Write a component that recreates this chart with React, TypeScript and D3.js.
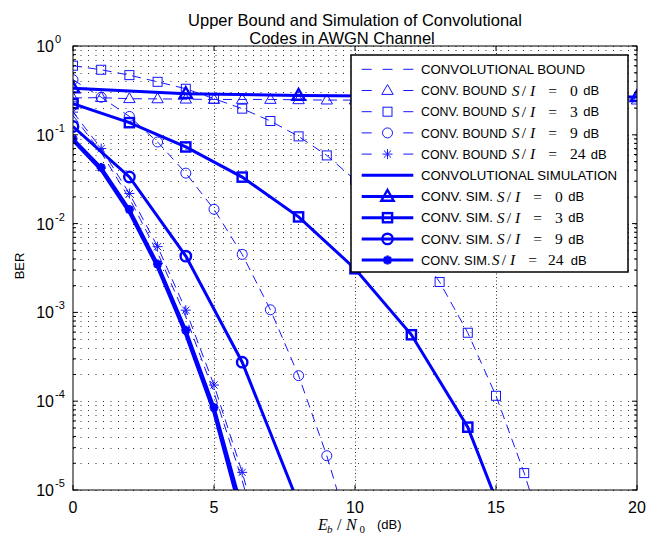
import React from "react";
import * as d3 from "d3";

// ---------- data ----------
const xTickValues = [0, 5, 10, 15, 20];
const yDecadeExps = [0, -1, -2, -3, -4, -5];

const boundPlainX = [0, 1, 2, 3, 4, 5, 6, 7];
const boundPlainY = [0.165, 0.063, 0.0192, 0.0047, 8.9e-4, 1.25e-4, 1.28e-5, 9.5e-7];

const boundTriX = [0, 1, 2, 3, 4, 5, 6, 7, 8, 9, 10, 11, 12, 13, 14, 15, 16, 17, 18, 19, 20];
const boundTriY = [0.26, 0.262, 0.255, 0.254, 0.252, 0.25, 0.25, 0.25, 0.248, 0.246, 0.246, 0.246, 0.246, 0.246, 0.246, 0.246, 0.246, 0.246, 0.246, 0.246, 0.246];

const boundSqX = [0, 1, 2, 3, 4, 5, 6, 7, 8, 9, 10, 11, 12, 13, 14, 15, 16, 17];
const boundSqY = [0.6, 0.54, 0.47, 0.395, 0.33, 0.255, 0.197, 0.143, 0.096, 0.0586, 0.031, 0.0145, 0.0062, 0.0022, 5.9e-4, 1.15e-4, 1.55e-5, 1.5e-6];

const boundCircX = [0, 1, 2, 3, 4, 5, 6, 7, 8, 9, 10];
const boundCircY = [0.417, 0.265, 0.161, 0.083, 0.037, 0.0145, 0.0045, 1.07e-3, 1.94e-4, 2.43e-5, 2.1e-6];

const boundStarX = [0, 1, 2, 3, 4, 5, 6, 7];
const boundStarY = [0.18, 0.07, 0.0218, 0.0055, 1.06e-3, 1.52e-4, 1.58e-5, 1.2e-6];

const simPlainX = [0, 1, 2, 3, 4, 5, 6];
const simPlainY = [0.086, 0.04, 0.0133, 3.2e-3, 5.6e-4, 7.4e-5, 4.8e-6];

const simTriX = [0, 4, 8, 12, 16, 20];
const simTriY = [0.335, 0.29, 0.277, 0.272, 0.269, 0.267];

const simSqX = [0, 2, 4, 6, 8, 10, 12, 14, 16];
const simSqY = [0.224, 0.137, 0.073, 0.0334, 0.0119, 3.1e-3, 5.6e-4, 5.1e-5, 1.2e-6];

const simCircX = [0, 2, 4, 6, 8];
const simCircY = [0.124, 0.0335, 4.3e-3, 2.75e-4, 7e-6];

const simStarX = [0, 1, 2, 3, 4, 5, 6];
const simStarY = [0.09, 0.0427, 0.0144, 3.5e-3, 6.3e-4, 8.5e-5, 6e-6];

const legendPrefixes = [
  "CONVOLUTIONAL BOUND",
  "CONV. BOUND",
  "CONV. BOUND",
  "CONV. BOUND",
  "CONV. BOUND",
  "CONVOLUTIONAL SIMULATION",
  "CONV. SIM.",
  "CONV. SIM.",
  "CONV. SIM.",
  "CONV. SIM.",
];
const legendSI = [null, "0", "3", "9", "24", null, "0", "3", "9", "24"];

type Marker = "none" | "tri" | "sq" | "circ" | "star";

const series = [
  { xs: boundPlainX, ys: boundPlainY, dashed: true, sim: false, marker: "none" as Marker },
  { xs: boundTriX, ys: boundTriY, dashed: true, sim: false, marker: "tri" as Marker },
  { xs: boundSqX, ys: boundSqY, dashed: true, sim: false, marker: "sq" as Marker },
  { xs: boundCircX, ys: boundCircY, dashed: true, sim: false, marker: "circ" as Marker },
  { xs: boundStarX, ys: boundStarY, dashed: true, sim: false, marker: "star" as Marker },
  { xs: simPlainX, ys: simPlainY, dashed: false, sim: true, marker: "none" as Marker },
  { xs: simTriX, ys: simTriY, dashed: false, sim: true, marker: "tri" as Marker },
  { xs: simSqX, ys: simSqY, dashed: false, sim: true, marker: "sq" as Marker },
  { xs: simCircX, ys: simCircY, dashed: false, sim: true, marker: "circ" as Marker },
  { xs: simStarX, ys: simStarY, dashed: false, sim: true, marker: "star" as Marker },
];

// ---------- layout ----------
const W = 668;
const H = 539;
const L = 73, R = 637, T = 46, B = 490;
const BLUE = "#0000ff";
const THIN = "#1515ff";
const SANS = "'Liberation Sans', Arial, Helvetica, sans-serif";
const SERIF = "'Liberation Serif', 'Times New Roman', serif";

function MarkerShape({ kind, cx, cy, sim }: { kind: Marker; cx: number; cy: number; sim: boolean }) {
  const color = sim ? BLUE : THIN;
  const sw = sim ? 2.4 : 1;
  if (kind === "tri") {
    const s = sim ? 6.5 : 6;
    const pts = `${cx},${cy - s} ${cx + s * 0.95},${cy + s * 0.65} ${cx - s * 0.95},${cy + s * 0.65}`;
    return <polygon points={pts} fill="none" stroke={color} strokeWidth={sw} />;
  }
  if (kind === "sq") {
    const s = sim ? 4.6 : 4.5;
    return <rect x={cx - s} y={cy - s} width={2 * s} height={2 * s} fill="none" stroke={color} strokeWidth={sw} />;
  }
  if (kind === "circ") {
    const r = sim ? 5.2 : 5;
    return <circle cx={cx} cy={cy} r={r} fill="none" stroke={color} strokeWidth={sw} />;
  }
  if (kind === "star") {
    const s = sim ? 4.5 : 5;
    const d = s * 0.72;
    const path = `M${cx - s},${cy}L${cx + s},${cy}M${cx},${cy - s}L${cx},${cy + s}M${cx - d},${cy - d}L${cx + d},${cy + d}M${cx - d},${cy + d}L${cx + d},${cy - d}`;
    return <path d={path} fill="none" stroke={color} strokeWidth={sim ? 2.6 : 1} />;
  }
  return null;
}

export default function App() {
  const x = d3.scaleLinear().domain([0, 20]).range([L, R]);
  const y = d3.scaleLog().domain([1e-5, 1]).range([B, T]);

  const minorVals: number[] = [];
  yDecadeExps.forEach((e) => {
    if (e === 0) return;
    for (let k = 2; k <= 9; k++) minorVals.push(k * Math.pow(10, e));
  });
  const majorVals = yDecadeExps.map((e) => Math.pow(10, e));

  const line = d3
    .line<[number, number]>()
    .x((d) => x(d[0]))
    .y((d) => y(d[1]));

  const legX0 = 351, legY0 = 55, legX1 = 628, legY1 = 272;
  const rowY = (i: number) => 69.3 + i * 21.2;
  const prefixLen = (i: number) =>
    i === 0 ? 164 : i === 5 ? 196 : i < 5 ? 86 : i < 9 ? 72 : 69.5;

  return (
    <svg width={W} height={H} style={{ position: "absolute", left: 0, top: 0, background: "#fff" }}>
      <defs>
        <clipPath id="plotclip">
          <rect x={L} y={T} width={R - L} height={B - T} />
        </clipPath>
      </defs>
      <rect x={0} y={0} width={W} height={H} fill="#fff" />

      {/* grid */}
      <g stroke="#333" strokeWidth={1} fill="none">
        {[...majorVals, ...minorVals].map((v, i) => (
          <line key={"h" + i} x1={L} x2={R} y1={Math.round(y(v)) + 0.5} y2={Math.round(y(v)) + 0.5} strokeDasharray="1,6.5" />
        ))}
        {xTickValues.slice(1, -1).map((v) => (
          <line key={"v" + v} x1={Math.round(x(v)) + 0.5} x2={Math.round(x(v)) + 0.5} y1={T} y2={B} strokeDasharray="1,2.5" />
        ))}
      </g>

      {/* data */}
      <g clipPath="url(#plotclip)">
        {series.map((s, i) => {
          const pts = s.xs.map((xv, j) => [xv, s.ys[j]] as [number, number]);
          return (
            <g key={"s" + i}>
              <path
                d={line(pts) || ""}
                fill="none"
                stroke={s.sim ? BLUE : THIN}
                strokeWidth={s.sim ? 3 : 1}
                strokeDasharray={s.dashed ? "9,6" : undefined}
              />
              {s.marker !== "none" &&
                pts.map((p, j) => (
                  <MarkerShape key={j} kind={s.marker} cx={x(p[0])} cy={y(p[1])} sim={s.sim} />
                ))}
            </g>
          );
        })}
      </g>

      {/* axes box */}
      <rect x={L} y={T} width={R - L} height={B - T} fill="none" stroke="#000" strokeWidth={1} />

      {/* ticks */}
      <g stroke="#000" strokeWidth={1}>
        {majorVals.map((v, i) => (
          <g key={"mt" + i}>
            <line x1={L} x2={L + 5} y1={y(v)} y2={y(v)} />
            <line x1={R} x2={R - 5} y1={y(v)} y2={y(v)} />
          </g>
        ))}
        {minorVals.map((v, i) => (
          <g key={"nt" + i}>
            <line x1={L} x2={L + 3} y1={y(v)} y2={y(v)} />
            <line x1={R} x2={R - 3} y1={y(v)} y2={y(v)} />
          </g>
        ))}
        {xTickValues.map((v) => (
          <g key={"xt" + v}>
            <line x1={x(v)} x2={x(v)} y1={B} y2={B - 5} />
            <line x1={x(v)} x2={x(v)} y1={T} y2={T + 5} />
          </g>
        ))}
      </g>

      {/* tick labels */}
      <g fontFamily={SANS} fill="#000">
        {xTickValues.map((v) => (
          <text key={"xl" + v} x={x(v)} y={513} fontSize={16} textAnchor="middle">
            {v}
          </text>
        ))}
        {yDecadeExps.map((e) => (
          <g key={"yl" + e}>
            <text x={54} y={y(Math.pow(10, e)) + 6} fontSize={16} textAnchor="end">
              10
            </text>
            <text x={55} y={y(Math.pow(10, e)) - 3} fontSize={11} textAnchor="start">
              {e === 0 ? "0" : "-" + Math.abs(e)}
            </text>
          </g>
        ))}
      </g>

      {/* axis labels */}
      <text x={0} y={0} transform="translate(24,266) rotate(-90)" fontFamily={SANS} fontSize={13} textAnchor="middle">
        BER
      </text>
      <g fill="#000">
        <text x={318} y={530} fontFamily={SERIF} fontStyle="italic" fontSize={16}>E</text>
        <text x={327} y={533} fontFamily={SERIF} fontStyle="italic" fontSize={11}>b</text>
        <text x={337} y={530} fontFamily={SERIF} fontSize={16}>/</text>
        <text x={346} y={530} fontFamily={SERIF} fontStyle="italic" fontSize={16}>N</text>
        <text x={359.5} y={533} fontFamily={SERIF} fontSize={11}>0</text>
        <text x={377} y={529} fontFamily={SANS} fontSize={13}>(dB)</text>
      </g>

      {/* title */}
      <g fontFamily={SANS} fontSize={16.5} textAnchor="middle" fill="#000">
        <text x={355} y={26}>Upper Bound and Simulation of Convolutional</text>
        <text x={342} y={44}>Codes in AWGN Channel</text>
      </g>

      {/* legend */}
      <g>
        <rect x={legX0} y={legY0} width={legX1 - legX0} height={legY1 - legY0} fill="#fff" stroke="#000" strokeWidth={1.5} />
        {series.map((s, i) => {
          const cy = rowY(i);
          const si = legendSI[i];
          const start = i < 5 ? 511.7 : i < 9 ? 496.7 : 491.7;
          const numX = start + (i === 9 ? 56.3 : 58.3);
          const dbX = si && si.length === 2 ? start + 79 : start + 71.6;
          return (
            <g key={"lg" + i}>
              {s.dashed ? (
                s.marker === "none" ? (
                  <line x1={361.7} x2={413.3} y1={cy} y2={cy} stroke={THIN} strokeWidth={1} strokeDasharray="10,10.8" />
                ) : (
                  <g stroke={THIN} strokeWidth={1}>
                    <line x1={361.7} x2={371.7} y1={cy} y2={cy} />
                    <line x1={403.3} x2={413.3} y1={cy} y2={cy} />
                  </g>
                )
              ) : (
                <line x1={361.7} x2={413.3} y1={cy} y2={cy} stroke={BLUE} strokeWidth={3} />
              )}
              {s.marker !== "none" && <MarkerShape kind={s.marker} cx={387.5} cy={cy} sim={s.sim} />}
              <text
                x={421}
                y={cy + 4.6}
                fontFamily={SANS}
                fontSize={13}
                fill="#000"
                textLength={prefixLen(i)}
                lengthAdjust="spacingAndGlyphs"
              >
                {legendPrefixes[i]}
              </text>
              {si && (
                <g fill="#000" fontFamily={SERIF} fontSize={15.5}>
                  <text x={start} y={cy + 5} fontStyle="italic">S</text>
                  <text x={start + 10} y={cy + 5}>/</text>
                  <text x={start + 18.3} y={cy + 5} fontStyle="italic">I</text>
                  <text x={start + 36.6} y={cy + 5}>=</text>
                  <text x={numX} y={cy + 5}>{si}</text>
                  <text x={dbX} y={cy + 4.6} fontFamily={SANS} fontSize={13}>dB</text>
                </g>
              )}
            </g>
          );
        })}
      </g>
    </svg>
  );
}
